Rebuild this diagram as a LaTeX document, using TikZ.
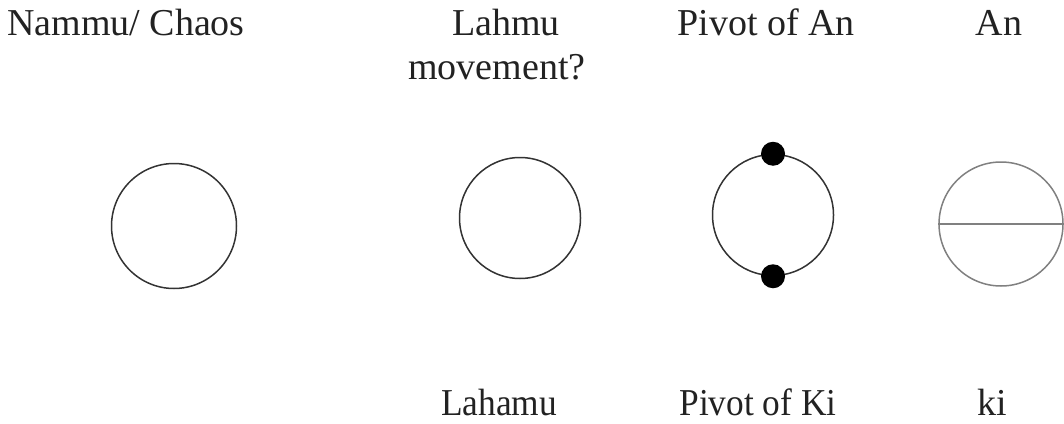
\documentclass[tikz,border=0pt]{standalone}
\usepackage{fontspec}
\setmainfont{Liberation Serif}
\definecolor{txt}{HTML}{222222}
\definecolor{ring}{HTML}{333333}
\definecolor{lightring}{HTML}{808080}
\begin{document}
\begin{tikzpicture}[x=1pt,y=-1pt,
  lbl/.style={anchor=base, inner sep=0pt, text=txt, font=\fontsize{38}{46}\selectfont},
  ring/.style={circle, draw=ring, line width=1.5pt, minimum size=#1, inner sep=0pt},
  pivotdot/.style={circle, fill=black, minimum size=24pt, inner sep=0pt}]
\useasboundingbox (0,0) rectangle (1064,423);
% top labels
\node[lbl] (t1) at (126,35) {Nammu/ Chaos};
\node[lbl] (t2a) at (506,35) {Lahmu};
\node[lbl] (t2b) at (497,79) {movement?};
\node[lbl] (t3) at (766,35) {Pivot of An};
\node[lbl] (t4) at (999,35) {An};
% circles
\node[ring=125pt] (c1) at (174,226) {};
\node[ring=121pt] (c2) at (520,218) {};
\node[ring=121pt] (c3) at (773,215) {};
\node[pivotdot] (d1) at (c3.north) {};
\node[pivotdot] (d2) at (c3.south) {};
\node[circle, draw=lightring, line width=1.5pt, minimum size=124pt, inner sep=0pt] (c4) at (1001,224) {};
\draw[lightring, line width=2pt] (c4.west) -- (c4.east);
% bottom labels
\node[lbl, xscale=0.93] (b2) at (499,415) {Lahamu};
\node[lbl, xscale=0.93] (b3) at (758,415) {Pivot of Ki};
\node[lbl] (b4) at (992,415) {ki};
\end{tikzpicture}
\end{document}
